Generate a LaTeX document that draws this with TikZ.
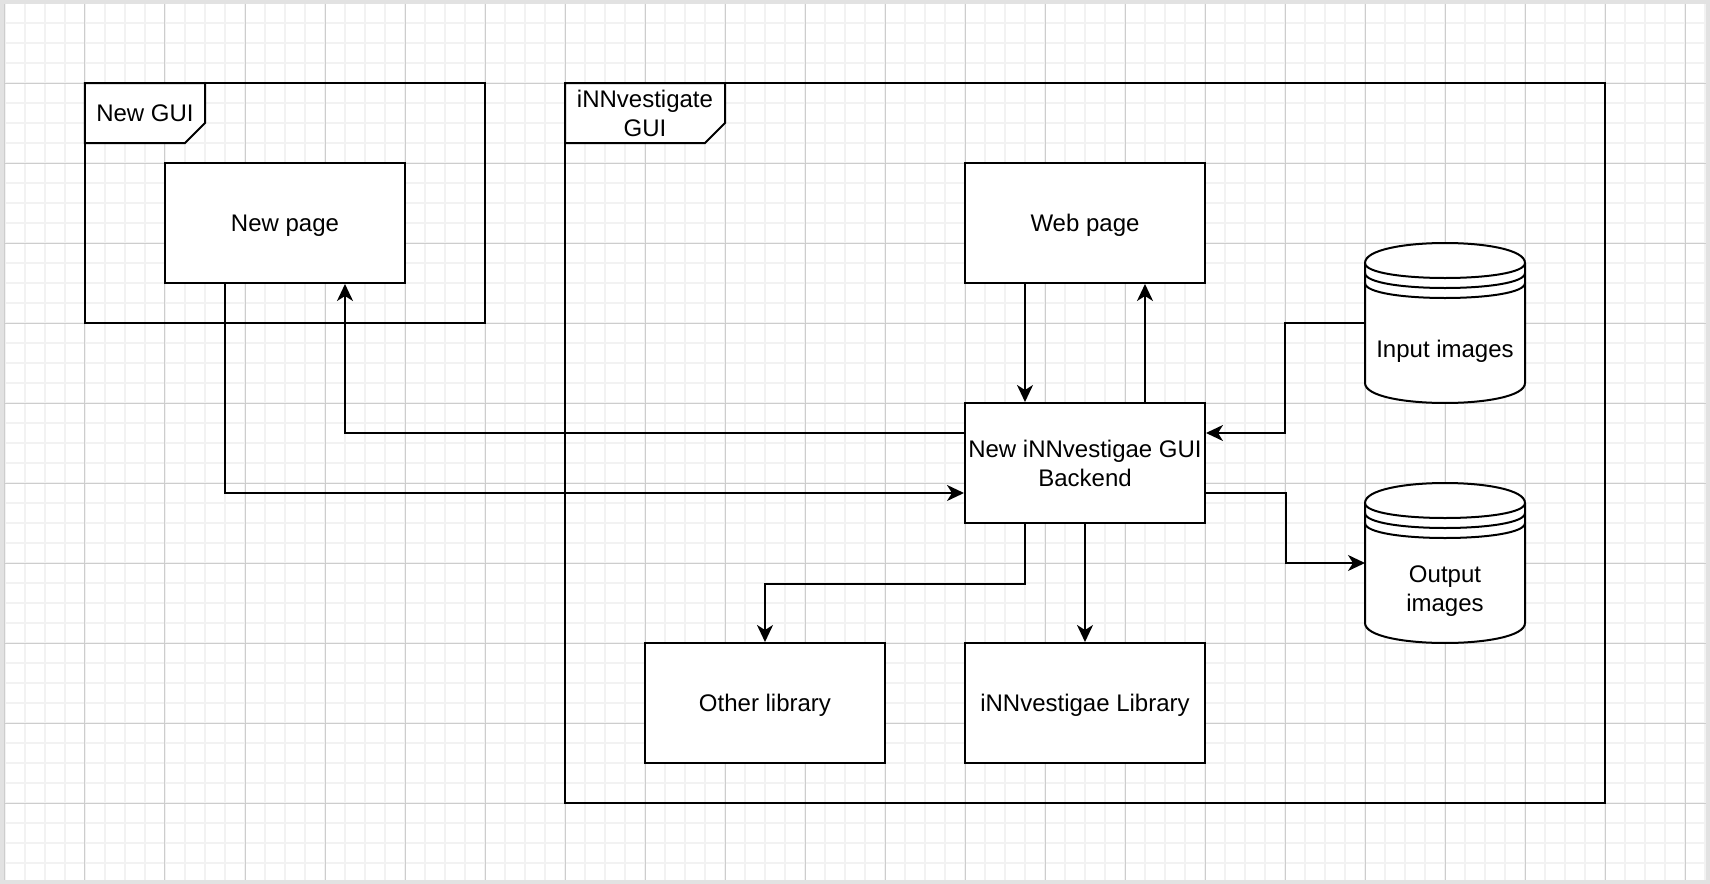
\documentclass[tikz,border=0pt]{standalone}
\usepackage{fontspec}
\setmainfont{Liberation Sans}
\usetikzlibrary{arrows.meta}
\definecolor{gridminor}{HTML}{F2F2F2}
\definecolor{gridmajor}{HTML}{CDCDCD}
\definecolor{pageedge}{HTML}{E2E2E2}
\begin{document}
\begin{tikzpicture}[x=1pt, y=-1pt, line width=1pt,
    >={Stealth[length=8.5pt, width=8pt, inset=2.5pt]},
    every node/.style = {text depth=0pt},
    component/.style = {rectangle, draw, fill=white, minimum width=120, minimum height=60, inner sep=1pt, align=center},
    frame/.style = {rectangle, draw, outer sep=0pt},
    tab/.style = {draw, fill=white},
    store/.style = {rectangle, minimum width=80, minimum height=80, outer sep=0pt},
    font=\fontsize{12}{14.4}\selectfont]
  % Page and grid.
  \useasboundingbox (-42.5, -41.5) rectangle (812.5, 400.5);
  \foreach \gx in {-40, -30, ..., 810}
    \draw [gridminor] (\gx, -41.5) -- (\gx, 400.5);
  \foreach \gy in {-40, -30, ..., 400}
    \draw [gridminor] (-42.5, \gy) -- (812.5, \gy);
  \foreach \gx in {-40, 0, ..., 800}
    \draw [gridmajor, line width=0.5pt] (\gx, -41.5) -- (\gx, 400.5);
  \foreach \gy in {-40, 0, ..., 400}
    \draw [gridmajor, line width=0.5pt] (-42.5, \gy) -- (812.5, \gy);
  \draw [pageedge, line width=2pt] (-41.5, -40.5) rectangle (811.5, 399.5);

  % Frames.
  \node at (100, 60) [frame, minimum width=200, minimum height=120, name=NewGUI] {};
  \node at (500, 180) [frame, minimum width=520, minimum height=360, name=InvGUI] {};
  \draw [tab] (NewGUI.north west) -- ++(60, 0) -- ++(0, 20) -- ++(-10, 10) -- ++(-50, 0) -- cycle;
  \draw [tab] (InvGUI.north west) -- ++(80, 0) -- ++(0, 20) -- ++(-10, 10) -- ++(-70, 0) -- cycle;
  \node at (30, 15) [name=NewGUILabel] {New GUI};
  \node at (280, 15) [align=center, name=InvGUILabel] {iNNvestigate\\GUI};

  % Components.
  \node at (100, 70) [component, name=NewPage] {New page};
  \node at (500, 70) [component, name=WebPage] {Web page};
  \node at (500, 190) [component, name=Backend] {New iNNvestigae GUI\\Backend};
  \node at (340, 310) [component, name=OtherLib] {Other library};
  \node at (500, 310) [component, name=InvLib] {iNNvestigae Library};

  % Data stores.
  \node at (680, 120) [store, name=InputImages] {};
  \node at (680, 240) [store, name=OutputImages] {};
  \foreach \s in {InputImages, OutputImages} {
    \draw [fill=white] (\s.north west) ++(0, 10)
          .. controls +(0, -13.33) and +(0, -13.33) .. ++(80, 0)
          -- ++(0, 60)
          .. controls +(0, 13.33) and +(0, 13.33) .. ++(-80, 0)
          -- cycle;
    \foreach \k in {10, 15, 20}
      \draw (\s.north west) ++(0, \k)
            .. controls +(0, 10) and +(0, 10) .. ++(80, 0);
  }
  \node at ([yshift=-13pt]InputImages.center) [name=InputImagesText] {Input images};
  \node at ([yshift=-13pt]OutputImages.center) [align=center, name=OutputImagesText] {Output\\images};

  % Connections.
  \draw [->] ([xshift=-30pt]NewPage.south)
             |- ([yshift=-15pt]Backend.west);
  \draw [->] ([yshift=15pt]Backend.west)
             -| ([xshift=30pt]NewPage.south);
  \draw [->] ([xshift=-30pt]WebPage.south)
             -- ([xshift=-30pt]Backend.north);
  \draw [->] ([xshift=30pt]Backend.north)
             -- ([xshift=30pt]WebPage.south);
  \draw [->] (InputImages.west)
             -- ++(-40, 0)
             |- ([yshift=15pt]Backend.east);
  \draw [->] ([yshift=-15pt]Backend.east)
             -- ++(40, 0)
             |- (OutputImages.west);
  \draw [->] ([xshift=-30pt]Backend.south)
             -- ++(0, 30)
             -| (OtherLib.north);
  \draw [->] (Backend.south)
             -- (InvLib.north);
\end{tikzpicture}
\end{document}
